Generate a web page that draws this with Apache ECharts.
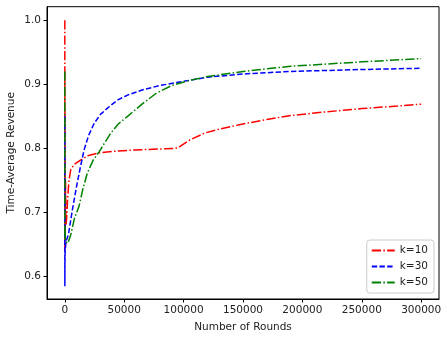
<!DOCTYPE html>
<html>
<head>
<meta charset="utf-8">
<script src="https://cdn.jsdelivr.net/npm/echarts@6/dist/echarts.min.js"></script>
<style>
  html, body { margin: 0; padding: 0; background: #fff; }
  #chart { width: 447px; height: 337px; }
</style>
</head>
<body>
<div id="chart"></div>
<script>
// rounds / time-average revenue
const k10 = [
  [0, 1.0], [15, 0.64], [40, 0.92], [80, 0.66], [150, 0.86], [300, 0.67], [600, 0.75],
  [1000, 0.68], [1500, 0.69], [2500, 0.725], [3500, 0.75], [5000, 0.767], [8000, 0.775],
  [13500, 0.782], [20000, 0.789], [29000, 0.793], [45000, 0.796], [65000, 0.798],
  [93000, 0.8], [97000, 0.803], [105000, 0.813], [118000, 0.824], [130000, 0.83],
  [147000, 0.837], [170000, 0.845], [189000, 0.851], [220000, 0.857], [250000, 0.862],
  [280000, 0.866], [300000, 0.869]
]
const k30 = [
  [0, 0.85], [30, 0.585], [100, 0.62], [300, 0.64], [1000, 0.655], [3000, 0.665],
  [6000, 0.7], [9300, 0.735], [13000, 0.77], [16300, 0.798], [20000, 0.82], [24700, 0.839],
  [30000, 0.853], [37300, 0.865], [45000, 0.876], [52800, 0.883], [65000, 0.891],
  [80000, 0.898], [95000, 0.903], [120000, 0.911], [150000, 0.916], [190000, 0.92],
  [250000, 0.923], [300000, 0.925]
]
const k50 = [
  [0, 0.92], [30, 0.66], [150, 0.68], [500, 0.655], [2500, 0.652], [5000, 0.665],
  [8000, 0.69], [12000, 0.71], [15000, 0.735], [19000, 0.762], [24000, 0.782],
  [29000, 0.795], [34000, 0.81], [38800, 0.824], [45000, 0.838], [52800, 0.85],
  [65000, 0.869], [77000, 0.886], [90000, 0.898], [105000, 0.906], [120000, 0.912],
  [150000, 0.92], [190000, 0.928], [250000, 0.935], [300000, 0.94]
]
const xTicks = [0, 50000, 100000, 150000, 200000, 250000, 300000]
const yTicks = [0.6, 0.7, 0.8, 0.9, 1.0]

const font = 'DejaVu Sans'
const fs = 10.5
const dashDot = [9.3, 2.3, 1.5, 2.3]
const dashed = [5.4, 2.3]

const chart = echarts.init(document.getElementById('chart'))

const mkSeries = (name, data, color, dash) => ({
  name,
  type: 'line',
  data,
  symbol: 'none',
  animation: false,
  lineStyle: { color, width: 1.5, type: dash },
  itemStyle: { color }
})

chart.setOption({
  animation: false,
  textStyle: { fontFamily: font },
  grid: {
    left: 47, top: 6.7, width: 392, height: 292.3,
    outerBoundsMode: 'none', containLabel: false,
    show: true, borderColor: '#000', borderWidth: 1, backgroundColor: 'transparent'
  },
  xAxis: {
    type: 'value',
    min: -15000,
    max: 315000,
    name: 'Number of Rounds',
    nameLocation: 'middle',
    nameGap: 22.5,
    nameMoveOverlap: false,
    nameTextStyle: { fontSize: fs, color: '#222', fontFamily: font },
    splitLine: { show: false },
    axisLine: { onZero: false, lineStyle: { color: '#000' } },
    axisTick: { customValues: xTicks, length: 3.5, lineStyle: { color: '#000' } },
    axisLabel: {
      customValues: xTicks, margin: 6, fontSize: fs, color: '#222', fontFamily: font,
      formatter: v => String(v)
    }
  },
  yAxis: {
    type: 'value',
    min: 0.565,
    max: 1.021,
    name: 'Time-Average Revenue',
    nameLocation: 'middle',
    nameGap: 30,
    nameMoveOverlap: false,
    nameTextStyle: { fontSize: fs, color: '#222', fontFamily: font },
    splitLine: { show: false },
    axisLine: { show: true, onZero: false, lineStyle: { color: '#000' } },
    axisTick: { show: true, customValues: yTicks, length: 3.5, lineStyle: { color: '#000' } },
    axisLabel: {
      customValues: yTicks, margin: 6, fontSize: fs, color: '#222', fontFamily: font,
      formatter: v => v.toFixed(1)
    }
  },
  legend: {
    orient: 'vertical',
    right: 13,
    bottom: 44,
    itemWidth: 23,
    itemHeight: 10,
    itemGap: 5,
    padding: [5, 6, 5, 4],
    borderColor: '#ccc',
    borderWidth: 1,
    borderRadius: 3,
    backgroundColor: 'rgba(255,255,255,0.8)',
    itemStyle: { opacity: 0 },
    textStyle: { fontSize: fs, color: '#222', fontFamily: font },
    data: ['k=10', 'k=30', 'k=50']
  },
  series: [
    mkSeries('k=10', k10, '#ff0000', dashDot),
    mkSeries('k=30', k30, '#0000ff', dashed),
    mkSeries('k=50', k50, '#008000', dashDot)
  ]
})

window.addEventListener('resize', () => chart.resize())
</script>
</body>
</html>
